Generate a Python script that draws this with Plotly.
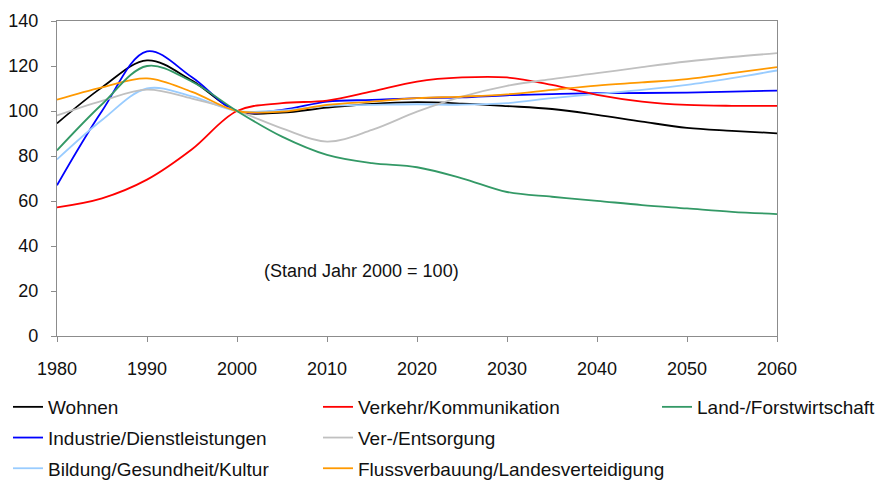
import plotly.graph_objects as go

years = [1980, 1985, 1990, 1995, 2000, 2005, 2010, 2015, 2020, 2025,
         2030, 2035, 2040, 2045, 2050, 2055, 2060]

wohnen = [94.5, 110.5, 122.5, 113.5, 100, 99.3, 101.5, 103.2, 103.9, 103.3,
          102.2, 100.9, 98.3, 95.3, 92.5, 91.2, 90.1]
verkehr = [57.2, 61.2, 69.5, 83.0, 100, 103.5, 104.6, 108.7, 113.1, 114.9,
           114.9, 111.6, 107.2, 104.2, 102.7, 102.3, 102.3]
land = [82.5, 103.0, 120.0, 113.0, 100, 88.6, 80.5, 76.8, 75.0, 70.1,
        64.0, 61.9, 60.1, 58.2, 56.7, 55.2, 54.2]
industrie = [67.0, 100.0, 126.5, 115.0, 100, 100.5, 104.2, 104.9, 105.7, 106.1,
             107.0, 107.5, 107.9, 108.0, 108.2, 108.6, 109.1]
entsorgung = [98.0, 104.5, 109.5, 105.5, 100, 92.3, 86.4, 91.6, 99.7, 106.4,
              111.2, 114.2, 116.8, 119.5, 122.0, 124.0, 125.7]
bildung = [78.5, 96.0, 110.0, 106.5, 100, 100.3, 102.3, 102.7, 103.0, 102.8,
           103.5, 105.7, 107.6, 109.4, 111.6, 114.6, 118.0]
fluss = [105.0, 110.5, 114.5, 108.5, 100, 99.7, 102.7, 104.2, 105.7, 106.4,
         107.4, 109.4, 111.3, 112.7, 114.2, 116.8, 119.5]

x_ticks = [1980, 1990, 2000, 2010, 2020, 2030, 2040, 2050, 2060]
y_ticks = [0, 20, 40, 60, 80, 100, 120, 140]

series = [
    ("Wohnen", wohnen, "#000000", "legend"),
    ("Industrie/Dienstleistungen", industrie, "#0000ff", "legend"),
    ("Bildung/Gesundheit/Kultur", bildung, "#99ccff", "legend"),
    ("Verkehr/Kommunikation", verkehr, "#ff0000", "legend2"),
    ("Ver-/Entsorgung", entsorgung, "#c0c0c0", "legend2"),
    ("Flussverbauung/Landesverteidigung", fluss, "#ff9900", "legend2"),
    ("Land-/Forstwirtschaft", land, "#339966", "legend3"),
]

FONT = "Liberation Sans, Arial, sans-serif"
W, H = 887, 476  # page body adds an 8px offset

fig = go.Figure()
for name, vals, color, lg in series:
    fig.add_trace(go.Scatter(
        x=years, y=vals, name=name, mode="lines",
        line=dict(color=color, width=1.8, shape="spline", smoothing=1.0),
        legend=lg, legendgroup=name,
    ))

legend_common = dict(
    orientation="v", xref="container", yref="container", xanchor="left",
    yanchor="top", bgcolor="rgba(0,0,0,0)", traceorder="grouped",
    tracegroupgap=3, font=dict(family=FONT, size=19, color="#111111"),
)
ytop = 1 - 380 / H
fig.update_layout(
    width=W, height=H,
    margin=dict(l=49, r=118, t=13, b=148, autoexpand=False),
    paper_bgcolor="white", plot_bgcolor="white",
    font=dict(family=FONT, color="#111111"),
    legend=dict(x=0 / W, y=ytop, **legend_common),
    legend2=dict(x=310 / W, y=ytop, **legend_common),
    legend3=dict(x=649 / W, y=ytop, **legend_common),
    xaxis=dict(
        range=[1980, 2060], tickvals=x_ticks, ticktext=[str(v) for v in x_ticks],
        showgrid=False, zeroline=False, showline=True, linecolor="#8c8c8c",
        linewidth=1.2, mirror=True, ticks="outside", ticklen=5, tickcolor="#8c8c8c",
        tickfont=dict(family=FONT, size=18, color="#111111"), ticklabelstandoff=11,
    ),
    yaxis=dict(
        range=[0, 140], tickvals=y_ticks, showgrid=False, zeroline=False,
        showline=True, linecolor="#8c8c8c", linewidth=1.2, mirror=True,
        ticks="outside", ticklen=5, tickcolor="#8c8c8c",
        tickfont=dict(family=FONT, size=18, color="#111111"), ticklabelstandoff=9,
    ),
    annotations=[dict(
        text="(Stand Jahr 2000 = 100)", xref="paper", yref="paper",
        x=(361.5 - 57) / 720, y=(336 - 271) / 315, showarrow=False,
        font=dict(family=FONT, size=18, color="#111111"),
        xanchor="center", yanchor="middle",
    )],
)

fig.write_html("out.html")
